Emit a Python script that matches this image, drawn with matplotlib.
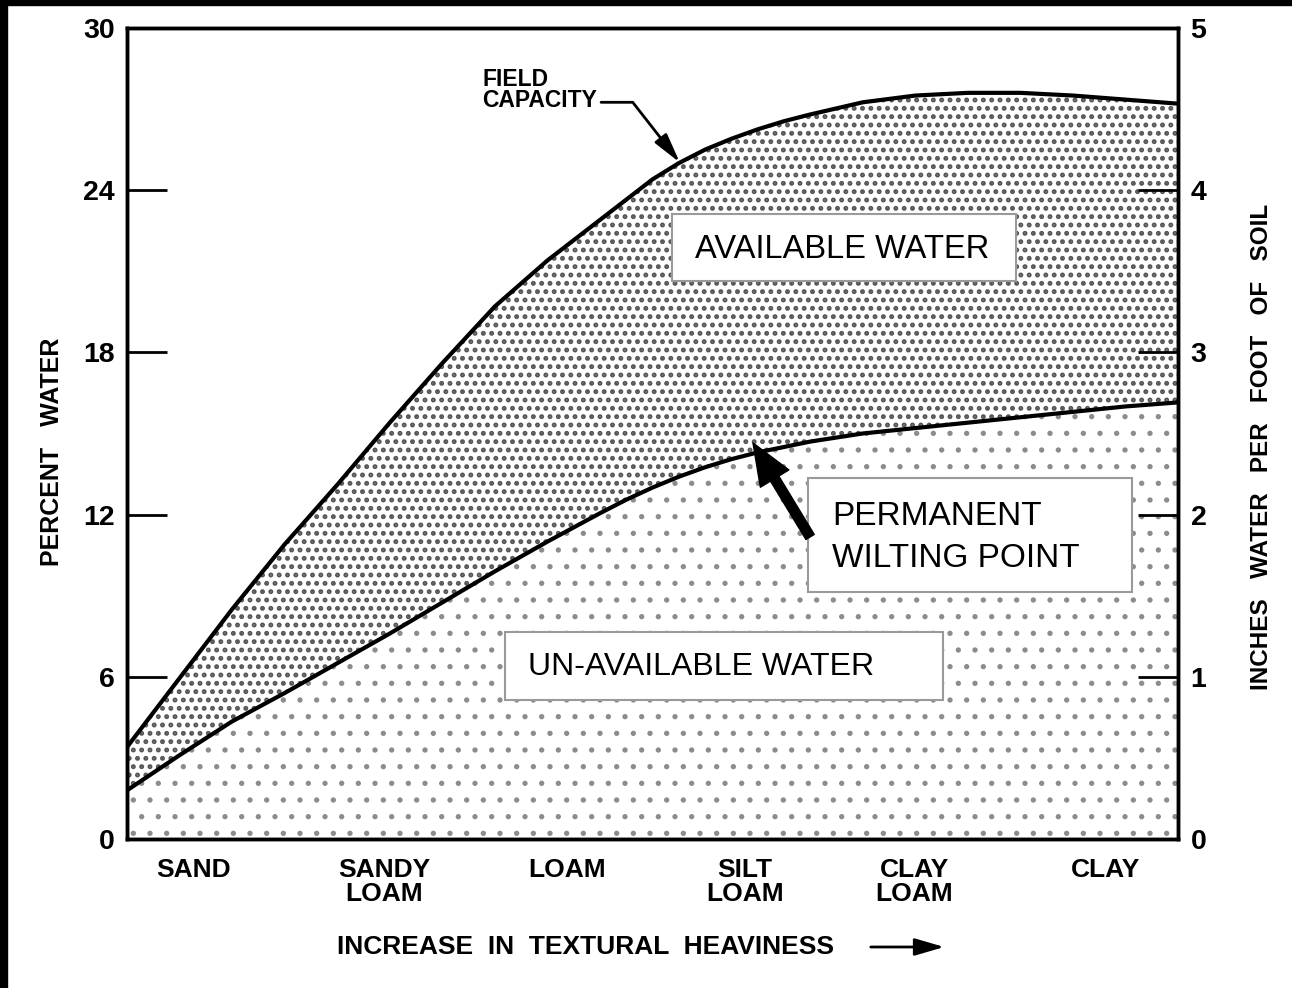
import numpy as np
import matplotlib
matplotlib.use("Agg")
from matplotlib import pyplot as plt
from matplotlib.patches import Rectangle, FancyArrowPatch

plt.rcParams['font.family'] = ['Liberation Sans Narrow', 'Liberation Sans', 'DejaVu Sans']

# soil textures along the bottom (position on a 0-100 "heaviness" scale)
soil_names = ["SAND", "SANDY\nLOAM", "LOAM", "SILT\nLOAM", "CLAY\nLOAM", "CLAY"]
soil_pos = [6.3, 24.5, 41.9, 58.8, 74.9, 93.1]

# percent water
texture = [0, 5, 10, 15, 20, 25, 30, 35, 40, 45, 47.5, 50, 52.5, 55, 57.5, 60, 62.5, 65,
           70, 75, 80, 85, 90, 95, 100]
field_cap = [3.4, 5.95, 8.5, 10.9, 13.1, 15.4, 17.6, 19.7, 21.4, 22.9, 23.65, 24.4, 25.0,
             25.5, 25.9, 26.25, 26.55, 26.8, 27.25, 27.5, 27.6, 27.6, 27.5, 27.35, 27.2]
wilting = [1.8, 3.1, 4.35, 5.4, 6.5, 7.6, 8.75, 9.9, 11.0, 12.05, 12.55, 13.0, 13.4,
           13.75, 14.05, 14.3, 14.5, 14.7, 15.0, 15.2, 15.4, 15.6, 15.8, 16.0, 16.15]

pct_ticks = [0, 6, 12, 18, 24, 30]
inch_ticks = [0, 1, 2, 3, 4, 5]

fig = plt.figure(figsize=(12.92, 9.88), dpi=100)
fig.patch.set_facecolor('white')
ax = fig.add_axes([0.0983, 0.1508, 0.8135, 0.8209])

# shaded regions
with plt.rc_context({'hatch.linewidth': 1.4}):
    ax.fill_between(texture, 0, wilting, facecolor='white', edgecolor='#8c8c8c',
                    hatch='.', linewidth=0, zorder=1)
with plt.rc_context({'hatch.linewidth': 2.3}):
    ax.fill_between(texture, wilting, field_cap, facecolor='white', edgecolor='#555555',
                    hatch='..', linewidth=0, zorder=1)
ax.plot(texture, field_cap, color='black', lw=3, zorder=3)
ax.plot(texture, wilting, color='black', lw=3, zorder=3)

ax.set_xlim(0, 100)
ax.set_ylim(0, 30)
ax.set_yticks(pct_ticks)
ax.tick_params(axis='y', direction='in', length=29, width=2, pad=9, labelsize=20.5)
for lab in ax.get_yticklabels():
    lab.set_fontweight('bold')
ax.set_xticks(soil_pos)
ax.set_xticklabels(soil_names, fontweight='bold', fontsize=19, linespacing=1.0)
ax.tick_params(axis='x', length=0, pad=14)
for s in ax.spines.values():
    s.set_linewidth(2.5)

ax2 = ax.twinx()
ax2.set_ylim(0, 5)
ax2.set_yticks(inch_ticks)
ax2.tick_params(axis='y', direction='in', length=29, width=2, pad=9, labelsize=20.5)
for lab in ax2.get_yticklabels():
    lab.set_fontweight('bold')
for s in ax2.spines.values():
    s.set_linewidth(2.5)

# labelled boxes
box_kw = dict(transform=ax.transAxes, facecolor='white', edgecolor='#9a9a9a', lw=1.5, zorder=4)
ax.add_patch(Rectangle((0.5186, 0.6880), 0.3273, 0.0826, **box_kw))
ax.text(0.6803, 0.7263, "AVAILABLE WATER", transform=ax.transAxes, ha='center', va='center',
        fontsize=23.5, zorder=5)
ax.add_patch(Rectangle((0.648, 0.3046), 0.3082, 0.1405, **box_kw))
ax.text(0.6708, 0.3718, "PERMANENT\nWILTING POINT", transform=ax.transAxes, ha='left',
        va='center', fontsize=24, linespacing=1.45, zorder=5)
ax.add_patch(Rectangle((0.3597, 0.1714), 0.4167, 0.0838, **box_kw))
ax.text(0.3815, 0.2121, "UN-AVAILABLE WATER", transform=ax.transAxes, ha='left', va='center',
        fontsize=23, zorder=5)

# arrows
ax.annotate('', xy=(0.5956, 0.4883), xycoords='axes fraction',
            xytext=(0.6499, 0.3724), textcoords='axes fraction',
            arrowprops=dict(arrowstyle='simple,head_length=1.5,head_width=1.2,tail_width=0.35',
                            mutation_scale=20, color='black', shrinkA=0, shrinkB=0), zorder=6)

fc_x = 52.6
ax.annotate("FIELD\nCAPACITY", xy=(fc_x, np.interp(fc_x, texture, field_cap)),
            xytext=(0.3378, 0.9236), textcoords='axes fraction', ha='left', va='center',
            fontsize=16.5, fontweight='bold', linespacing=0.9, zorder=6,
            arrowprops=dict(arrowstyle='-|>,head_length=1.2,head_width=0.3', mutation_scale=15,
                            color='black', lw=2, relpos=(1.0, 0.22), shrinkA=1, shrinkB=0,
                            connectionstyle='angle,angleA=0,angleB=-52,rad=0'))

# axis titles
fig.text(52 / 1292, 1 - 452 / 988, "PERCENT   WATER", rotation=90, ha='center', va='center',
         fontsize=18, fontweight='bold')
fig.text(1262 / 1292, 1 - 447 / 988, "INCHES   WATER   PER   FOOT   OF   SOIL", rotation=90,
         ha='center', va='center', fontsize=17.5, fontweight='bold')
fig.text(337 / 1292, 1 - 947 / 988, "INCREASE  IN  TEXTURAL  HEAVINESS", ha='left',
         va='center', fontsize=19, fontweight='bold')
fig.add_artist(FancyArrowPatch(
    (868 / 1292, 1 - 947 / 988), (947 / 1292, 1 - 947 / 988), transform=fig.transFigure,
    arrowstyle='-|>,head_length=1.2,head_width=0.35', mutation_scale=15, color='black', lw=2))

# black scan edges
fig.add_artist(Rectangle((0, 1 - 5 / 988), 1, 5 / 988, transform=fig.transFigure,
                         color='black', zorder=10))
fig.add_artist(Rectangle((0, 0), 7 / 1292, 1, transform=fig.transFigure,
                         color='black', zorder=10))

fig.savefig("out.png", dpi=100, facecolor='white')
